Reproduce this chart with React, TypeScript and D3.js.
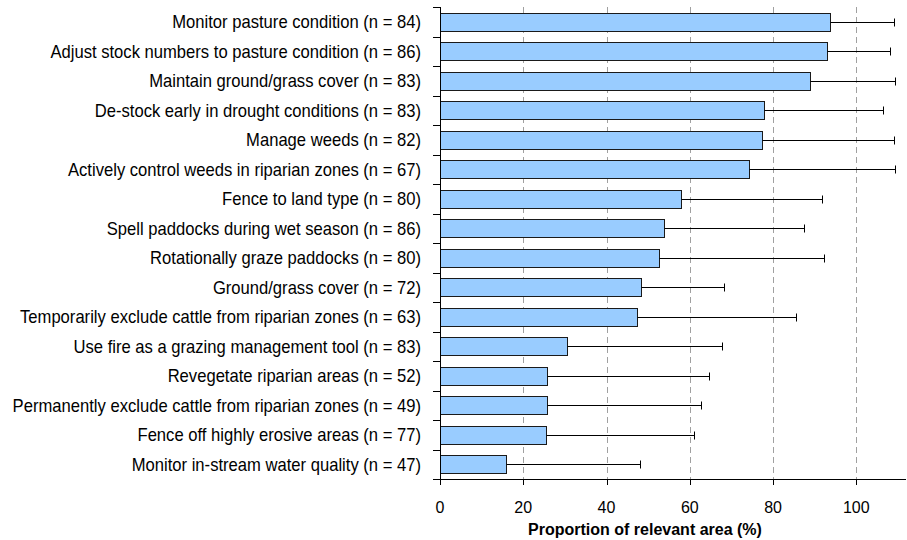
import React from "react";
import * as d3 from "d3";

const categories = [
  "Monitor pasture condition (n = 84)",
  "Adjust stock numbers to pasture condition (n = 86)",
  "Maintain ground/grass cover (n = 83)",
  "De-stock early in drought conditions (n = 83)",
  "Manage weeds (n = 82)",
  "Actively control weeds in riparian zones (n = 67)",
  "Fence to land type (n = 80)",
  "Spell paddocks during wet season (n = 86)",
  "Rotationally graze paddocks (n = 80)",
  "Ground/grass cover (n = 72)",
  "Temporarily exclude cattle from riparian zones (n = 63)",
  "Use fire as a grazing management tool (n = 83)",
  "Revegetate riparian areas (n = 52)",
  "Permanently exclude cattle from riparian zones (n = 49)",
  "Fence off highly erosive areas (n = 77)",
  "Monitor in-stream water quality (n = 47)",
];

const values = [93.7, 93.0, 88.8, 77.9, 77.4, 74.2, 58.0, 53.7, 52.5, 48.2, 47.4, 30.5, 25.6, 25.6, 25.4, 15.9];
const upper = [109.1, 108.2, 109.3, 106.5, 109.1, 109.4, 91.7, 87.4, 92.2, 68.3, 85.4, 67.7, 64.6, 62.6, 61.1, 48.0];

const xTicks = [0, 20, 40, 60, 80, 100];
const gridTicks = [20, 40, 60, 80, 100];
const xTitle = "Proportion of relevant area (%)";

export default function App() {
  const W = 907;
  const H = 540;
  const left = 440;
  const top = 7;
  const bottom = 479;
  const x = d3.scaleLinear().domain([0, 100]).range([left, 856.3]);
  const right = 906;
  const y = d3
    .scaleBand<string>()
    .domain(categories)
    .range([top, bottom])
    .paddingInner(0.4)
    .paddingOuter(0.2);
  const step = y.step();
  const font = "'Liberation Sans', Arial, sans-serif";
  const px = (v: number) => Math.round(v) + 0.5;

  return (
    <svg
      width={W}
      height={H}
      style={{ position: "absolute", left: 0, top: 0, background: "#fff" }}
      fontFamily={font}
    >
      {gridTicks.map((t) => (
        <line
          key={"g" + t}
          x1={px(x(t))}
          x2={px(x(t))}
          y1={top}
          y2={bottom}
          stroke="#a0a0a0"
          strokeWidth={1}
          strokeDasharray="6,4"
        />
      ))}
      {categories.map((c, i) => {
        const y0 = y(c)!;
        const bw = y.bandwidth();
        const cy = px(y0 + bw / 2);
        const ex = px(x(upper[i]));
        return (
          <g key={c}>
            <rect
              x={px(x(0))}
              y={px(y0)}
              width={Math.round(x(values[i]) - x(0))}
              height={Math.round(bw)}
              fill="#99CCFF"
              stroke="#1a1a1a"
              strokeWidth={1}
            />
            <line x1={px(x(values[i]))} x2={ex} y1={cy} y2={cy} stroke="#000" strokeWidth={1} />
            <line x1={ex} x2={ex} y1={cy - 4} y2={cy + 4} stroke="#000" strokeWidth={1} />
            <text
              transform={`translate(421,${y0 + bw / 2}) scale(0.95,1)`}
              dy="0.36em"
              textAnchor="end"
              fontSize={17.5}
              fill="#000"
            >
              {c}
            </text>
          </g>
        );
      })}
      {/* y axis */}
      <line x1={left + 0.5} x2={left + 0.5} y1={top} y2={bottom} stroke="#000" strokeWidth={1} />
      {d3.range(categories.length + 1).map((k) => {
        const yy = px(top + k * step);
        return <line key={"yt" + k} x1={left - 7} x2={left} y1={yy} y2={yy} stroke="#000" strokeWidth={1} />;
      })}
      {/* x axis */}
      <line x1={left} x2={right} y1={bottom + 0.5} y2={bottom + 0.5} stroke="#000" strokeWidth={1} />
      {xTicks.map((t) => (
        <g key={"xt" + t}>
          <line x1={px(x(t))} x2={px(x(t))} y1={bottom} y2={bottom + 6} stroke="#000" strokeWidth={1} />
          <text x={x(t)} y={513} textAnchor="middle" fontSize={16} fill="#000">
            {t}
          </text>
        </g>
      ))}
      <text x={645} y={535} textAnchor="middle" fontSize={16} fontWeight="bold" fill="#000">
        {xTitle}
      </text>
    </svg>
  );
}
